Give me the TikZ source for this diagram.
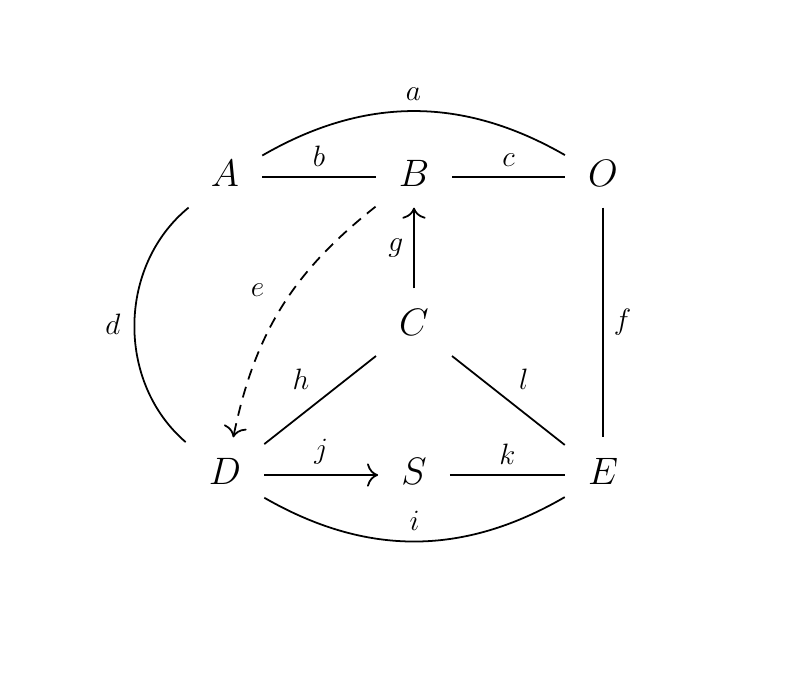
\documentclass[tikz,border=0pt]{standalone}
\usetikzlibrary{cd, arrows.meta}

\newcommand{\objtext}[1]{\lower1.8pt\hbox{$#1$}}

\begin{document}
\begin{tikzpicture}[
    obj/.style={shape=asymmetrical rectangle, inner xsep=10.5pt, inner ysep=9.5pt, outer sep=0pt, font=\LARGE},
    lbl/.style={inner sep=4.9pt, scale=0.924, font=\Large},
    arr/.style={-{Computer Modern Rightarrow[width=10.5pt, length=5pt]}},
    line width=0.8pt]
  \useasboundingbox (-3.571, 2.810) rectangle (8.984, -7.921);

  % Objects
  \node[obj] (A) at (0,  0)     {\objtext{A}};
  \node[obj] (B) at (3,  0)     {\objtext{B}};
  \node[obj] (O) at (6,  0)     {\objtext{O}};
  \node[obj] (C) at (3, -2.365) {\objtext{C}};
  \node[obj] (D) at (0, -4.73)  {\objtext{D}};
  \node[obj] (S) at (3, -4.73)  {\objtext{S}};
  \node[obj] (E) at (6, -4.73)  {\objtext{E}};

  % Top row
  \draw (A) to[bend left=30] node[lbl, above] {$a$} (O);
  \draw (A) -- node[lbl, above] {$b$} (B);
  \draw (B) -- node[lbl, above] {$c$} (O);

  % Sides
  \draw (A) to[bend right=50] node[lbl, left, xshift=-1.5pt] {$d$} (D);
  \draw[arr, dash pattern=on 5pt off 3.5pt] (B) to[bend right=20] node[lbl, above left, xshift=-3pt] {$e$} (D);
  \draw (O) -- node[lbl, right] {$f$} (E);

  % Middle
  \draw[arr] (C) -- node[lbl, left] {$g$} (B);
  \draw (C) -- node[lbl, above left] {$h$} (D);
  \draw (C) -- node[lbl, above right] {$l$} (E);

  % Bottom row
  \draw (D) to[bend right=30] node[lbl, above] {$i$} (E);
  \draw[arr] (D) -- node[lbl, above] {$j$} (S);
  \draw (S) -- node[lbl, above] {$k$} (E);
\end{tikzpicture}
\end{document}
